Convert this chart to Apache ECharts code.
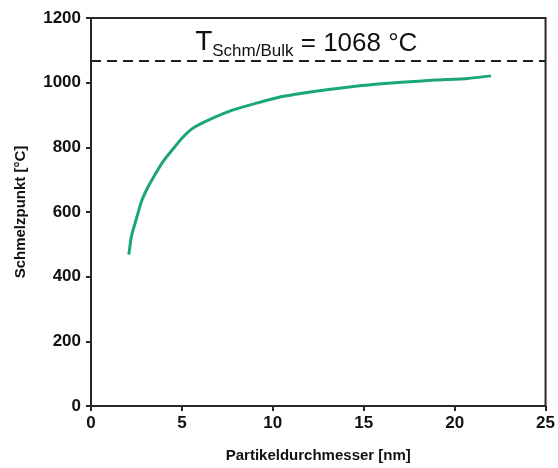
<!DOCTYPE html>
<html>
<head>
<meta charset="utf-8">
<script src="https://cdn.jsdelivr.net/npm/echarts@6/dist/echarts.min.js"></script>
<style>
  html, body { margin: 0; padding: 0; background: #fff; }
  #chart { width: 558px; height: 468px; }
</style>
</head>
<body>
<div id="chart"></div>
<script>
// Particle diameter [nm]
var diameter = [2.08, 2.22, 2.50, 2.77, 3.14, 3.50, 3.96, 4.50, 5.05, 5.60, 6.69, 7.78,
                9.06, 10.34, 11.25, 13.07, 14.90, 15.63, 17.08, 18.91, 20.73, 22.0];
// Melting point [°C]
var meltingPoint = [468, 524, 580, 632, 678, 714, 756, 794, 831, 859, 890, 915,
                    936, 955, 964, 979, 991, 995, 1001, 1008, 1013, 1021];
// Bulk melting point [°C]
var bulkMelt = 1068;

var xTicks = [0, 5, 10, 15, 20, 25];
var yTicks = [0, 200, 400, 600, 800, 1000, 1200];

var axisColor = '#2b2622';
var font = 'Liberation Sans, Arial, sans-serif';

var chart = echarts.init(document.getElementById('chart'));
chart.setOption({
  animation: false,
  grid: {
    left: 91, right: 10, top: 18, bottom: 62,
    show: true, borderColor: axisColor, borderWidth: 2, backgroundColor: 'transparent'
  },
  xAxis: {
    type: 'value',
    min: xTicks[0], max: xTicks[xTicks.length - 1], interval: 5,
    name: 'Partikeldurchmesser [nm]',
    nameLocation: 'middle', nameGap: 42,
    nameTextStyle: { fontFamily: font, fontWeight: 'bold', fontSize: 15, color: '#111' },
    axisLine: { lineStyle: { color: axisColor, width: 2 } },
    axisTick: { inside: false, length: 5, lineStyle: { color: axisColor, width: 2 } },
    axisLabel: { fontFamily: font, fontWeight: 'bold', fontSize: 17, color: '#111', margin: 9,
                 formatter: function (v) { return String(v); } },
    splitLine: { show: false }
  },
  yAxis: {
    type: 'value',
    min: yTicks[0], max: yTicks[yTicks.length - 1], interval: 200,
    name: 'Schmelzpunkt [°C]',
    nameLocation: 'middle', nameGap: 63,
    nameTextStyle: { fontFamily: font, fontWeight: 'bold', fontSize: 15, color: '#111' },
    axisLine: { lineStyle: { color: axisColor, width: 2 } },
    axisTick: { inside: false, length: 5, lineStyle: { color: axisColor, width: 2 } },
    axisLabel: { fontFamily: font, fontWeight: 'bold', fontSize: 17, color: '#111', margin: 10,
                 formatter: function (v) { return String(v); } },
    splitLine: { show: false }
  },
  series: [{
    type: 'line',
    data: diameter.map(function (d, i) { return [d, meltingPoint[i]]; }),
    smooth: 0.15,
    showSymbol: false,
    lineStyle: { color: '#1aa57c', width: 3 },
    markLine: {
      silent: true,
      symbol: ['none', 'none'],
      lineStyle: { color: '#222', type: [10, 6], width: 2 },
      label: {
        position: 'insideMiddleTop',
        distance: 4,
        padding: [0, 24, 0, 0],
        formatter: function () {
          return '{t|T}{s|Schm/Bulk}{v| = ' + bulkMelt + ' °C}';
        },
        rich: {
          t: { fontFamily: font, fontSize: 28, color: '#111', verticalAlign: 'bottom' },
          s: { fontFamily: font, fontSize: 17, color: '#111', verticalAlign: 'bottom', padding: [0, 0, -3, 0] },
          v: { fontFamily: font, fontSize: 26, color: '#111', verticalAlign: 'bottom' }
        }
      },
      data: [{ yAxis: bulkMelt }]
    }
  }]
});
</script>
</body>
</html>
